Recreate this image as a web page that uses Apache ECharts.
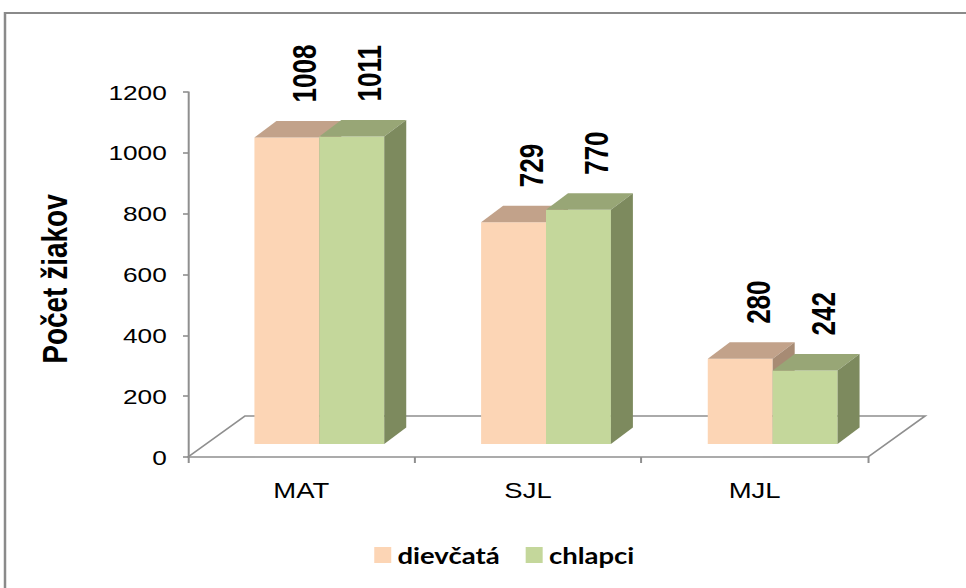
<!DOCTYPE html>
<html>
<head>
<meta charset="utf-8">
<script src="https://cdn.jsdelivr.net/npm/echarts@6/dist/echarts.min.js"></script>
<style>
  html, body { margin: 0; padding: 0; background: #fff; }
  #wrap { width: 966px; height: 588px; overflow: hidden; position: relative; }
  /* the chart is laid out narrower and widened, which gives the text its wide look */
  #chart { width: 773px; height: 588px; transform-origin: 0 0; }
</style>
</head>
<body>
<div id="wrap"><div id="chart"></div></div>
<script>
// ---- data ----
const categories = ['MAT', 'SJL', 'MJL'];
const girls = [1008, 729, 280];
const boys = [1011, 770, 242];
const seriesNames = ['dievčatá', 'chlapci'];
const axisTitle = 'Počet žiakov';
const yMin = 0, yMax = 1200, yStep = 200;

// ---- layout ----
const WIDE = 966 / 773;                 // horizontal widening of the whole drawing
document.getElementById('chart').style.transform = 'scaleX(' + WIDE + ')';
const ux = v => v / WIDE;               // screen x distance -> layout x distance

const FLOOR_DX = ux(57), FLOOR_DY = -41;   // depth of the floor
const BAR_SHIFT_X = ux(18), BAR_SHIFT_Y = -13; // bars sit a bit back on the floor
const BAR_DX = ux(22), BAR_DY = -16.5;     // depth of one bar
const BAR_FRAC = 65 / 227;                 // bar width as part of a category band
const LABEL_DX = ux(18), LABEL_GAP = 35;
const AXIS_COLOR = '#8f8f8f';
const SANS = '"Liberation Sans", Arial, sans-serif';

const palettes = [
  { front: '#FCD5B5', top: '#C2A28A', side: '#A78B74' },
  { front: '#C4D79B', top: '#98A676', side: '#7D8A5E' }
];

function barItem(slot) {
  const pal = palettes[slot];
  return function (params, api) {
    const idx = api.value(0);
    const val = api.value(1);
    const base = api.coord([idx, 0]);
    const tip = api.coord([idx, val]);
    const band = api.size([1, 0])[0];
    const w = band * BAR_FRAC;
    const cx = base[0] + BAR_SHIFT_X;
    const x0 = slot === 0 ? cx - w : cx;
    const x1 = x0 + w;
    const yb = base[1] + BAR_SHIFT_Y;
    const yt = tip[1] + BAR_SHIFT_Y;
    return {
      type: 'group',
      children: [
        { type: 'rect', shape: { x: x0, y: yt, width: w, height: yb - yt },
          style: { fill: pal.front } },
        { type: 'polygon', shape: { points: [[x0, yt], [x1, yt], [x1 + BAR_DX, yt + BAR_DY], [x0 + BAR_DX, yt + BAR_DY]] },
          style: { fill: pal.top } },
        { type: 'polygon', shape: { points: [[x1, yt], [x1 + BAR_DX, yt + BAR_DY], [x1 + BAR_DX, yb + BAR_DY], [x1, yb]] },
          style: { fill: pal.side } },
        { type: 'text', x: x0 + w / 2 + LABEL_DX, y: yt - LABEL_GAP, rotation: Math.PI / 2,
          style: { text: String(val), fill: '#000', fontSize: 26, fontWeight: 'bold',
                   fontFamily: SANS, align: 'left', verticalAlign: 'middle' } }
      ]
    };
  };
}

function floorItem(params, api) {
  const band = api.size([1, 0])[0];
  const left = api.coord([0, 0]);
  const right = api.coord([categories.length - 1, 0]);
  const xl = left[0] - band / 2, xr = right[0] + band / 2, y = left[1];
  return {
    type: 'polyline',
    shape: { points: [[xl, y], [xl + FLOOR_DX, y + FLOOR_DY], [xr + FLOOR_DX, y + FLOOR_DY], [xr, y]] },
    style: { stroke: AXIS_COLOR, lineWidth: 1.6, fill: null }
  };
}

const chart = echarts.init(document.getElementById('chart'), null, { renderer: 'svg', width: 773, height: 588 });

chart.setOption({
  animation: false,
  backgroundColor: '#fff',
  grid: { left: ux(188), right: 773 - ux(868), top: 92, bottom: 131, containLabel: false },
  legend: {
    data: seriesNames,
    left: ux(368), top: 539,
    icon: 'rect', itemWidth: ux(17), itemHeight: 16, itemGap: ux(26),
    textStyle: { color: '#000', fontSize: 22, fontWeight: 'bold', fontFamily: 'Lato, "Open Sans", sans-serif' }
  },
  xAxis: {
    type: 'category',
    data: categories,
    boundaryGap: true,
    axisLine: { lineStyle: { color: AXIS_COLOR, width: 1.6 } },
    axisTick: { show: true, length: 6, alignWithLabel: false, lineStyle: { color: AXIS_COLOR, width: 1.6 } },
    axisLabel: { color: '#000', fontSize: 22, fontFamily: SANS, margin: 22 },
    splitLine: { show: false }
  },
  yAxis: {
    type: 'value',
    min: yMin, max: yMax, interval: yStep,
    axisLine: { show: true, lineStyle: { color: AXIS_COLOR, width: 1.6 } },
    axisTick: { show: true, length: ux(5), lineStyle: { color: AXIS_COLOR, width: 1.6 } },
    axisLabel: { color: '#000', fontSize: 21, fontFamily: SANS, margin: 17,
                 formatter: v => String(v) },
    splitLine: { show: false }
  },
  graphic: [
    { type: 'rect', shape: { x: ux(5), y: 13, width: 900, height: 700 },
      style: { fill: null, stroke: '#8a8a8a', lineWidth: 2 }, z: 100, silent: true },
    { type: 'text', x: ux(55), y: 279, rotation: Math.PI / 2,
      style: { text: axisTitle, fill: '#000', fontSize: 28, fontWeight: 'bold',
               fontFamily: SANS, align: 'center', verticalAlign: 'middle' } }
  ],
  series: [
    { type: 'custom', name: 'floor', silent: true, z: 1, renderItem: floorItem,
      data: [[0, 0]], encode: { x: 0, y: 1 } },
    { type: 'custom', name: seriesNames[0], z: 2, renderItem: barItem(0),
      itemStyle: { color: palettes[0].front },
      data: girls.map((v, i) => [i, v]), encode: { x: 0, y: 1 } },
    { type: 'custom', name: seriesNames[1], z: 3, renderItem: barItem(1),
      itemStyle: { color: palettes[1].front },
      data: boys.map((v, i) => [i, v]), encode: { x: 0, y: 1 } }
  ]
});
</script>
</body>
</html>
